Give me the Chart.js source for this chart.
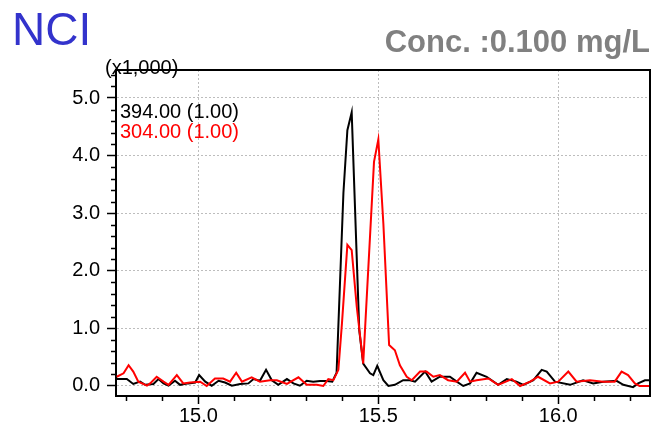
<!DOCTYPE html>
<html><head><meta charset="utf-8">
<style>html,body{margin:0;padding:0;background:#fff;overflow:hidden;}</style>
<script src="https://cdn.jsdelivr.net/npm/chart.js@4.4.0/dist/chart.umd.min.js"></script>
</head><body>
<canvas id="c" width="656" height="430" style="display:block;width:656px;height:430px"></canvas>
<script>
const titleText = 'NCI';
const concText = 'Conc. :0.100 mg/L';
const yUnitText = '(x1,000)';
const seriesLabels = ['394.00 (1.00)', '304.00 (1.00)'];
const seriesColors = ['#000000', '#ff0000'];
const xTickValues = [15.0, 15.5, 16.0];
const yTickValues = [0, 1, 2, 3, 4, 5];

const blackTime = [14.773,14.801,14.819,14.838,14.852,14.875,14.889,14.903,14.917,14.935,14.949,14.972,14.991,15.002,15.019,15.037,15.056,15.074,15.093,15.116,15.139,15.153,15.171,15.188,15.204,15.222,15.246,15.264,15.282,15.301,15.319,15.338,15.357,15.372,15.384,15.403,15.414,15.426,15.447,15.458,15.477,15.486,15.497,15.514,15.528,15.546,15.569,15.588,15.602,15.630,15.648,15.671,15.699,15.718,15.736,15.755,15.773,15.801,15.833,15.857,15.884,15.903,15.931,15.954,15.968,15.991,16.033,16.069,16.097,16.125,16.162,16.181,16.208,16.222,16.241,16.255];
const blackSignal = [0.12,0.12,0.035,0.075,0.02,0.035,0.12,0.045,0.005,0.09,0.02,0.045,0.06,0.19,0.075,0.005,0.09,0.06,0.005,0.035,0.045,0.12,0.09,0.28,0.1,0.02,0.12,0.045,0.005,0.09,0.075,0.085,0.085,0.075,0.23,3.35,4.44,4.75,0.97,0.39,0.22,0.19,0.35,0.1,0.0,0.02,0.1,0.1,0.075,0.25,0.075,0.16,0.16,0.075,0.0,0.045,0.23,0.16,0.02,0.12,0.075,0.02,0.1,0.28,0.25,0.075,0.02,0.1,0.045,0.075,0.09,0.02,-0.02,0.045,0.1,0.1];

const redTime = [14.773,14.792,14.806,14.819,14.833,14.857,14.866,14.884,14.903,14.917,14.940,14.958,14.977,15.005,15.023,15.046,15.069,15.088,15.105,15.121,15.148,15.171,15.199,15.218,15.246,15.278,15.301,15.329,15.347,15.361,15.375,15.389,15.399,15.414,15.426,15.440,15.458,15.488,15.500,15.514,15.530,15.546,15.560,15.579,15.593,15.616,15.634,15.653,15.671,15.694,15.718,15.741,15.755,15.773,15.806,15.833,15.871,15.894,15.922,15.944,15.977,16.000,16.028,16.051,16.088,16.125,16.157,16.176,16.194,16.213,16.226,16.255];
const redSignal = [0.16,0.22,0.36,0.25,0.075,0.005,0.045,0.16,0.075,0.02,0.19,0.045,0.06,0.075,0.0,0.13,0.13,0.075,0.23,0.075,0.15,0.075,0.1,0.1,0.035,0.15,0.02,0.02,0.0,0.12,0.1,0.28,1.09,2.45,2.36,1.38,0.39,3.89,4.28,2.82,0.71,0.62,0.36,0.16,0.1,0.25,0.25,0.16,0.19,0.1,0.075,0.23,0.075,0.1,0.13,0.02,0.12,0.0,0.075,0.16,0.045,0.075,0.25,0.075,0.1,0.075,0.075,0.25,0.19,0.045,0.0,0.0];

const FONT = '"Liberation Sans", Arial, sans-serif';

const toPoints = (t, v) => t.map((x, i) => ({ x: x, y: v[i] }));

const decor = {
  id: 'decor',
  afterDraw(chart) {
    const { ctx, chartArea: a, scales } = chart;
    const x = scales.x, y = scales.y;
    ctx.save();
    // top and right frame
    ctx.strokeStyle = '#000';
    ctx.lineWidth = 2;
    ctx.beginPath();
    ctx.moveTo(a.left, a.top);
    ctx.lineTo(a.right, a.top);
    ctx.lineTo(a.right, a.bottom);
    ctx.stroke();
    // minor ticks
    ctx.lineWidth = 1.5;
    ctx.beginPath();
    for (let k = Math.ceil(x.min * 10); k <= Math.floor(x.max * 10); k++) {
      if (k % 5 === 0) continue;
      const px = Math.round(x.getPixelForValue(k / 10)) + 0.5;
      ctx.moveTo(px, a.bottom);
      ctx.lineTo(px, a.bottom + 5);
    }
    for (let k = Math.ceil(y.min * 5); k <= Math.floor(y.max * 5); k++) {
      if (k % 5 === 0) continue;
      const py = Math.round(y.getPixelForValue(k / 5)) + 0.5;
      ctx.moveTo(a.left - 5, py);
      ctx.lineTo(a.left, py);
    }
    ctx.stroke();
    // texts
    ctx.textBaseline = 'alphabetic';
    ctx.textAlign = 'left';
    ctx.fillStyle = '#3333cc';
    ctx.font = '46px ' + FONT;
    ctx.fillText(titleText, 12, 45);
    ctx.textAlign = 'right';
    ctx.fillStyle = '#808080';
    ctx.font = 'bold 31px ' + FONT;
    ctx.fillText(concText, 650, 52);
    ctx.textAlign = 'left';
    ctx.fillStyle = '#000';
    ctx.font = '20px ' + FONT;
    ctx.fillText(yUnitText, 105, 74);
    seriesLabels.forEach((s, i) => {
      ctx.fillStyle = seriesColors[i];
      ctx.fillText(s, 120, 118 + i * 20);
    });
    ctx.restore();
  }
};

new Chart(document.getElementById('c'), {
  type: 'line',
  data: {
    datasets: [
      { label: seriesLabels[1], data: toPoints(redTime, redSignal), borderColor: seriesColors[1], borderWidth: 2, pointRadius: 0, tension: 0, fill: false },
      { label: seriesLabels[0], data: toPoints(blackTime, blackSignal), borderColor: seriesColors[0], borderWidth: 2, pointRadius: 0, tension: 0, fill: false }
    ]
  },
  options: {
    responsive: false,
    animation: false,
    devicePixelRatio: 1,
    layout: { padding: { top: 70, right: 6, left: 0, bottom: 0 } },
    plugins: { legend: { display: false }, tooltip: { enabled: false }, title: { display: false } },
    scales: {
      x: {
        type: 'linear',
        min: 14.771,
        max: 16.255,
        afterBuildTicks: s => { s.ticks = xTickValues.map(v => ({ value: v })); },
        afterFit: s => { s.height = 34; },
        ticks: { callback: v => Number(v).toFixed(1), color: '#000', font: { family: FONT, size: 20 }, padding: 0, maxRotation: 0, autoSkip: false },
        grid: { color: '#bdbdbd', lineWidth: 1, tickColor: '#000', tickLength: 8, tickWidth: 1.5 },
        border: { display: true, color: '#000', width: 2, dash: [2, 2] }
      },
      y: {
        type: 'linear',
        min: -0.174,
        max: 5.486,
        afterBuildTicks: s => { s.ticks = yTickValues.map(v => ({ value: v })); },
        afterFit: s => { s.width = 116; },
        ticks: { callback: v => Number(v).toFixed(1), color: '#000', font: { family: FONT, size: 20 }, padding: 7, autoSkip: false },
        grid: { color: '#bdbdbd', lineWidth: 1, tickColor: '#000', tickLength: 9, tickWidth: 1.5 },
        border: { display: true, color: '#000', width: 2, dash: [2, 2] }
      }
    }
  },
  plugins: [decor]
});
</script>
</body></html>
